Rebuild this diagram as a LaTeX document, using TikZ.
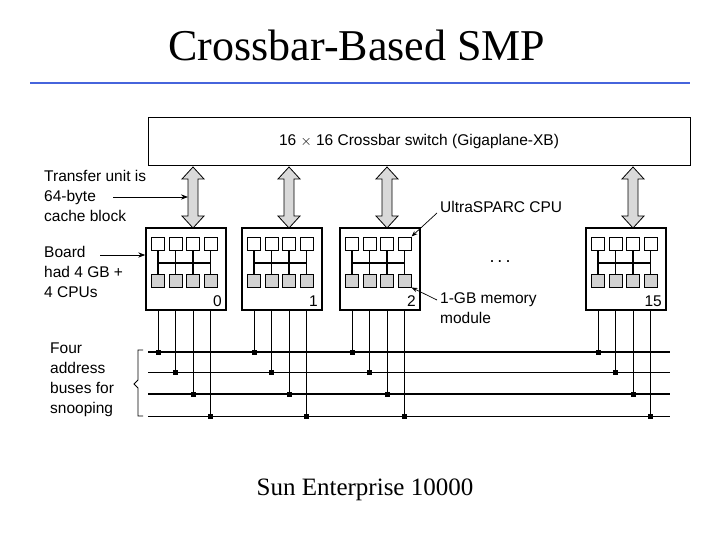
\documentclass[tikz,border=0pt]{standalone}
\usepackage{fontspec}
\setmainfont{Liberation Serif}
\newfontfamily\lsans{Liberation Sans}
\usetikzlibrary{arrows.meta,decorations.pathreplacing}
\begin{document}
\begin{tikzpicture}[x=1pt,y=-1pt,
  lab/.style={font=\lsans\fontsize{15.5}{20}\selectfont,align=left,anchor=north west,inner sep=0pt},
  board/.style={draw,line width=1.5pt,minimum width=80pt,minimum height=82pt,inner sep=0pt},
  cpu/.style={draw,fill=white,line width=1pt,minimum size=13pt,inner sep=0pt},
  mem/.style={draw,fill=gray!35,line width=1pt,minimum size=13pt,inner sep=0pt},
  dot/.style={rectangle,fill,inner sep=0pt,minimum size=5pt}]
\useasboundingbox (0,0) rectangle (720,540);
\node[font=\fontsize{44}{50}\selectfont] (title) at (357,45) {Crossbar-Based SMP};
\draw[line width=2.5pt,color={rgb,255:red,70;green,100;blue,220}] (30,83) -- (690,83);
\node[draw,line width=0.8pt,minimum width=542pt,minimum height=48pt,inner sep=0pt,font=\lsans\fontsize{15.5}{18}\selectfont] (xb) at (419,141) {16 $\times$ 16 Crossbar switch (Gigaplane-XB)};
% buses
\foreach \y/\w [count=\i] in {352/1.6,372/0.8,394/1.6,416/0.8}
  \draw[line width=\w pt] (148,\y) coordinate (bl\i) -- (670,\y) coordinate (br\i);
\foreach \bx/\num/\nm in {186/0/b0,282/1/b1,380/2/b2,626/15/b15}{
  \node[board] (\nm) at (\bx,269) {};
  \draw[line width=0.8pt,fill=gray!30]
    (\bx+7,167) -- (\bx+18,179) -- (\bx+12,179) -- (\bx+12,216) -- (\bx+18,216)
    -- (\bx+7,228) -- (\bx-4,216) -- (\bx+2,216) -- (\bx+2,179) -- (\bx-4,179) -- cycle;
  \coordinate (\nm a) at (\bx+2,197);
  \foreach \k in {1,2,3,4}{
    \pgfmathsetmacro\cx{\bx-28+(\k-1)*17.5}
    \draw[line width=1.3pt] (\cx,243) -- (\cx,280);
    \node[cpu] (\nm c\k) at (\cx,243.5) {};
    \node[mem] (\nm m\k) at (\cx,280.5) {};
  }
  \draw[line width=1.3pt] (\bx-28,263) -- (\bx+24.5,263);
  \node[font=\lsans\fontsize{15.5}{18}\selectfont,anchor=south east,inner sep=0pt] at (\bx+36,307) {\num};
  \foreach \k/\yy in {1/352,2/372,3/394,4/416}{
    \pgfmathsetmacro\cx{\bx-28+(\k-1)*17.5}
    \draw[line width=\ifodd\k 1.5pt\else 1pt\fi] (\cx,310) -- (\cx,\yy) node[dot] {};
  }
}
\node[lab] (t1) at (44,170) {Transfer unit is\\64-byte\\cache block};
\draw[-{Stealth[length=7pt]},line width=0.9pt] (113,197) -- (b0a);
\node[lab] (t2) at (44,246) {Board\\had 4 GB +\\4 CPUs};
\draw[-{Stealth[length=7pt]},line width=0.9pt] (100,255) -- (b0.west|-0,255);
\node[lab] (t3) at (50,343) {Four\\address\\buses for\\snooping};
\draw[line width=0.8pt] (143,350) -- (138,350) -- (138,380) -- (134,384) -- (138,388) -- (138,416) -- (143,416);
\node[lab] (t4) at (440,201) {UltraSPARC CPU};
\draw[-{Stealth[length=6pt]},line width=0.7pt] (437,213) -- (b2c4.north east);
\node[lab] (t5) at (440,292) {1-GB memory\\module};
\draw[-{Stealth[length=6pt]},line width=0.7pt] (437,300) -- (b2m4.south east);
\node[font=\lsans\fontsize{18}{18}\selectfont] (dots) at (500,262) {.\,.\,.};
\node[font=\fontsize{25}{30}\selectfont] (cap) at (365,490) {Sun Enterprise 10000};
\end{tikzpicture}
\end{document}
